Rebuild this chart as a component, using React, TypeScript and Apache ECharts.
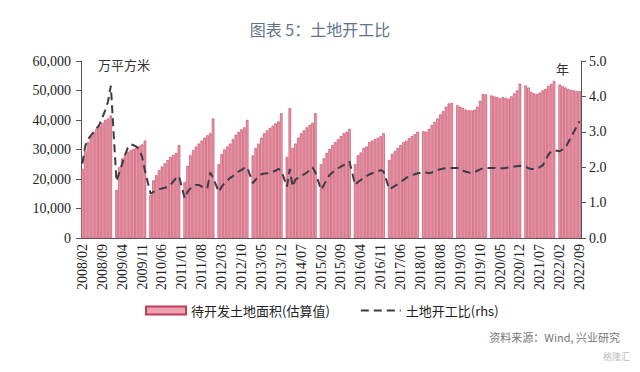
import React, { useEffect, useRef } from "react";
import * as echarts from "echarts";

// Monthly categories 2008/02 – 2022/09 (January has no data point)
const firstYear = 2008;
const lastYear = 2022;
const categories: string[] = [];
for (let y = firstYear; y <= lastYear; y++) {
  for (let m = 1; m <= 12; m++) {
    if (y === firstYear && m < 2) continue;
    if (y === lastYear && m > 9) continue;
    categories.push(`${y}/${String(m).padStart(2, "0")}`);
  }
}

// 待开发土地面积(估算值), 万平方米 — Jan = null
const landArea: (number | null)[] = [
  /*2008*/ 23500, 29500, 32500, 34500, 36000, 37000, 38000, 39000, 40000, 40500, 41500,
  /*2009*/ null, 16300, 24000, 27000, 28500, 29200, 29800, 30200, 30600, 31200, 31700, 33000,
  /*2010*/ null, 14600, 19500, 21300, 23000, 24200, 25300, 26400, 27500, 28200, 28800, 31500,
  /*2011*/ null, 19000, 24500, 28000, 29800, 31000, 32000, 33000, 34000, 34800, 35500, 40500,
  /*2012*/ null, 25000, 28500, 30000, 31000, 32000, 33500, 35000, 36000, 36800, 37500, 40000,
  /*2013*/ null, 28000, 30500, 32000, 34000, 35500, 36500, 37300, 38000, 38800, 39500, 42300,
  /*2014*/ null, 27500, 44000, 30500, 32000, 34000, 35500, 36500, 37500, 38300, 39000, 42300,
  /*2015*/ null, 25000, 27000, 28800, 30200, 31500, 32500, 33500, 34500, 35500, 36000, 37000,
  /*2016*/ null, 25000, 28000, 29000, 30500, 31000, 32500, 33000, 33500, 34000, 34500, 35500,
  /*2017*/ null, 26500, 28500, 29500, 30500, 31500, 32500, 33000, 33800, 34500, 35200, 36000,
  /*2018*/ null, 36200, 36000, 37000, 38300, 39400, 40500, 41900, 43000, 44500, 45600, 45800,
  /*2019*/ null, 45000, 44500, 44000, 43500, 43300, 43200, 43500, 44500, 46500, 48800, 48700,
  /*2020*/ null, 48300, 48000, 47700, 47300, 47800, 47500, 47200, 48000, 49000, 50000, 52300,
  /*2021*/ null, 51700, 51000, 49500, 49000, 48800, 49300, 50000, 50500, 51500, 52200, 53200,
  /*2022*/ null, 52000, 51500, 51000, 50500, 50200, 50000, 49800, 49800,
];

// 土地开工比(rhs), 年 — Jan = null
const startRatio: (number | null)[] = [
  /*2008*/ 2.1, 2.6, 2.8, 2.9, 3.0, 3.1, 3.2, 3.4, 3.6, 3.85, 4.3,
  /*2009*/ null, 1.6, 1.85, 2.1, 2.35, 2.55, 2.65, 2.62, 2.58, 2.5, 2.3, 1.9,
  /*2010*/ null, 1.25, 1.3, 1.35, 1.38, 1.4, 1.42, 1.45, 1.5, 1.6, 1.7, 1.75,
  /*2011*/ null, 1.12, 1.3, 1.4, 1.45, 1.5, 1.5, 1.45, 1.4, 1.42, 1.85, 1.7,
  /*2012*/ null, 1.3, 1.45, 1.55, 1.62, 1.7, 1.75, 1.82, 1.88, 1.92, 1.98, 2.0,
  /*2013*/ null, 1.55, 1.65, 1.75, 1.8, 1.82, 1.83, 1.85, 1.88, 1.9, 1.95, 1.9,
  /*2014*/ null, 1.45, 1.95, 1.45, 1.65, 1.7, 1.75, 1.8, 1.85, 1.92, 2.0, 1.85,
  /*2015*/ null, 1.36, 1.5, 1.65, 1.78, 1.85, 1.92, 1.97, 2.02, 2.06, 2.1, 2.16,
  /*2016*/ null, 1.5, 1.58, 1.64, 1.7, 1.75, 1.8, 1.83, 1.86, 1.88, 1.92, 1.88,
  /*2017*/ null, 1.38, 1.42, 1.47, 1.52, 1.58, 1.64, 1.7, 1.74, 1.78, 1.8, 1.83,
  /*2018*/ null, 1.86, 1.85, 1.83, 1.85, 1.88, 1.92, 1.94, 1.96, 1.97, 1.98, 1.98,
  /*2019*/ null, 1.98, 1.95, 1.9, 1.87, 1.85, 1.84, 1.86, 1.9, 1.94, 1.97, 1.98,
  /*2020*/ null, 1.98, 1.98, 1.97, 1.97, 1.97, 1.98, 1.99, 2.0, 2.02, 2.03, 2.04,
  /*2021*/ null, 2.02, 1.97, 1.95, 1.95, 1.97, 2.0, 2.05, 2.2, 2.35, 2.45, 2.48,
  /*2022*/ null, 2.45, 2.5, 2.55, 2.7, 2.85, 3.0, 3.15, 3.3,
];

const leftTicks = { min: 0, max: 60000, interval: 10000 };
const rightTicks = { min: 0, max: 5, interval: 1 };

const titleText = "图表 5：土地开工比";
const barName = "待开发土地面积(估算值)";
const lineName = "土地开工比(rhs)";
const leftUnit = "万平方米";
const rightUnit = "年";
const sourceText = "资料来源：Wind, 兴业研究";

export default function App() {
  const ref = useRef<HTMLDivElement>(null);
  useEffect(() => {
    if (!ref.current) return;
    const chart = echarts.init(ref.current, undefined, { renderer: "svg" });
    const serif = "Times New Roman, Liberation Serif, serif";
    const cjk = "Noto Sans CJK SC, sans-serif";
    const lineColor = "#3c3c44";
    chart.setOption({
      animation: false,
      backgroundColor: "#ffffff",
      textStyle: { fontFamily: serif },
      title: {
        text: titleText,
        left: "center",
        top: 16,
        textStyle: { fontFamily: cjk, fontSize: 16, fontWeight: "normal", color: "#62738a" },
      },
      grid: { left: 81, right: 59, top: 61, bottom: 134, containLabel: false },
      legend: {
        left: 140,
        top: 299,
        itemWidth: 40,
        itemHeight: 8,
        itemGap: 30,
        textStyle: { fontFamily: cjk, fontSize: 13, color: "#222" },
        data: [
          { name: barName, icon: "rect" },
          { name: lineName, itemStyle: { opacity: 0 } },
        ],
      },
      xAxis: {
        type: "category",
        data: categories,
        boundaryGap: true,
        axisLine: { lineStyle: { color: "#555", width: 1 } },
        axisTick: { interval: 6, alignWithLabel: true, length: 4, lineStyle: { color: "#555" } },
        axisLabel: {
          interval: 6,
          rotate: 90,
          margin: 6,
          fontFamily: serif,
          fontSize: 14,
          color: "#222",
        },
      },
      yAxis: [
        {
          type: "value",
          ...leftTicks,
          splitLine: { show: false },
          axisLine: { show: true, lineStyle: { color: "#555" } },
          axisTick: { show: true, length: 5, lineStyle: { color: "#555" } },
          axisLabel: {
            fontFamily: serif,
            fontSize: 14,
            color: "#222",
            margin: 10,
            formatter: (v: number) => v.toLocaleString("en-US"),
          },
        },
        {
          type: "value",
          ...rightTicks,
          position: "right",
          splitLine: { show: false },
          axisLine: { show: true, lineStyle: { color: "#555" } },
          axisTick: { show: true, length: 5, lineStyle: { color: "#555" } },
          axisLabel: {
            fontFamily: serif,
            fontSize: 14,
            color: "#222",
            margin: 8,
            formatter: (v: number) => v.toFixed(1),
          },
        },
      ],
      series: [
        {
          name: barName,
          type: "bar",
          data: landArea,
          barCategoryGap: "12%",
          itemStyle: { color: "#eaa0b1", borderColor: "#c23d57", borderWidth: 0.6 },
        },
        {
          name: lineName,
          type: "line",
          yAxisIndex: 1,
          data: startRatio,
          connectNulls: true,
          symbol: "none",
          showSymbol: false,
          lineStyle: { color: lineColor, width: 2, type: [8, 5] },
          itemStyle: { color: lineColor },
        },
      ],
      graphic: [
        {
          type: "text",
          left: 98,
          top: 58,
          style: { text: leftUnit, fontFamily: cjk, fontSize: 13, fill: "#333" },
        },
        {
          type: "text",
          left: 556,
          top: 62,
          style: { text: rightUnit, fontFamily: cjk, fontSize: 13, fill: "#333" },
        },
        {
          type: "text",
          right: 20,
          top: 331,
          style: { text: sourceText, fontFamily: cjk, fontSize: 11, fill: "#777" },
        },
        {
          type: "text",
          right: 10,
          top: 352,
          style: { text: "格隆汇", fontFamily: cjk, fontSize: 9, fill: "#bbb" },
        },
      ],
    });
    return () => chart.dispose();
  }, []);
  return (
    <div
      ref={ref}
      style={{ position: "fixed", left: 0, top: 0, width: 640, height: 372 }}
    />
  );
}
